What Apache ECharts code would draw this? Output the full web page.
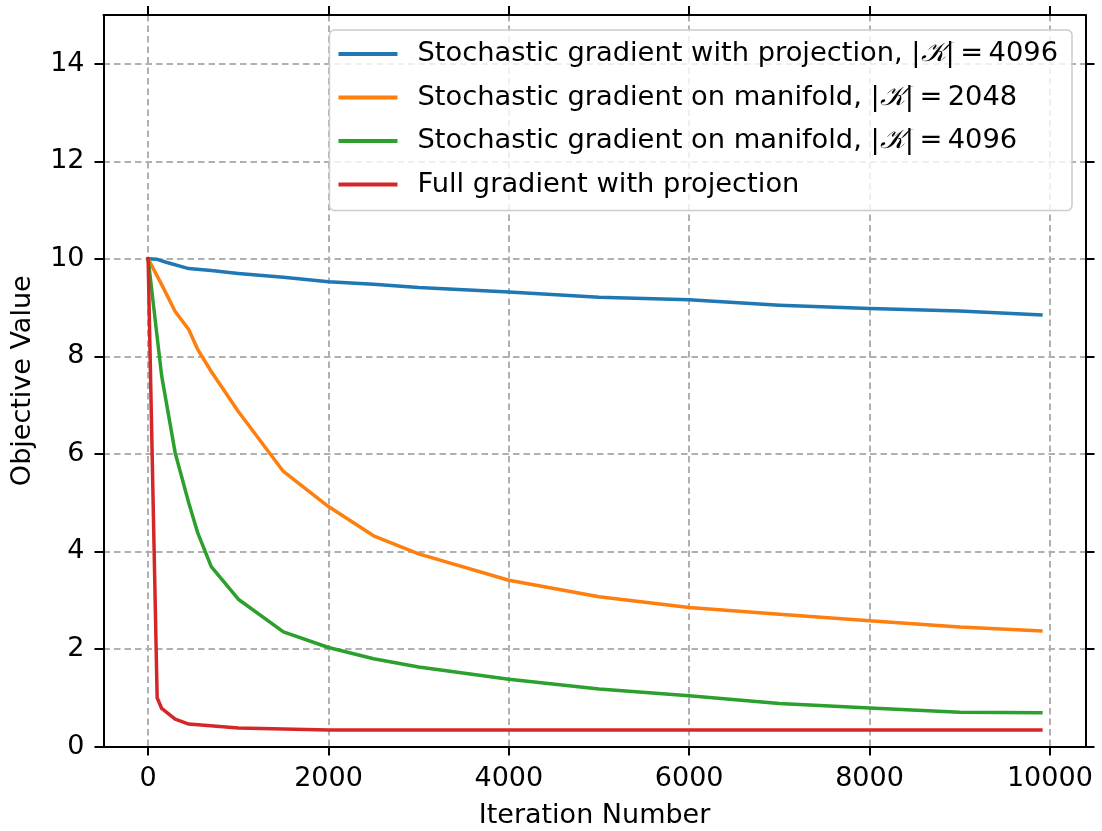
<!DOCTYPE html>
<html>
<head>
<meta charset="utf-8">
<script src="https://cdn.jsdelivr.net/npm/echarts@6/dist/echarts.min.js"></script>
<style>
  html, body { margin: 0; padding: 0; background: #ffffff; }
  #chart { width: 1102px; height: 831px; }
</style>
</head>
<body>
<div id="chart"></div>
<script>
// Iterations at which each run was logged, with the objective value there
const itersProjSG = [0, 100, 200, 450, 700, 1000, 1500, 2000, 2500, 3000, 4000, 5000, 6000, 7000, 8000, 9000, 9900];
const valsProjSG  = [10.0, 9.99, 9.93, 9.80, 9.76, 9.70, 9.62, 9.53, 9.48, 9.41, 9.32, 9.21, 9.16, 9.05, 8.98, 8.93, 8.85];

const itersMan2048 = [0, 150, 300, 450, 550, 700, 1000, 1500, 2000, 2500, 3000, 4000, 5000, 6000, 7000, 8000, 9000, 9900];
const valsMan2048  = [10.0, 9.47, 8.92, 8.55, 8.14, 7.69, 6.87, 5.64, 4.92, 4.32, 3.95, 3.41, 3.07, 2.85, 2.71, 2.58, 2.45, 2.37];

const itersMan4096 = [0, 150, 300, 450, 550, 700, 1000, 1500, 2000, 2500, 3000, 4000, 5000, 6000, 7000, 8000, 9000, 9900];
const valsMan4096  = [10.0, 7.60, 6.02, 5.00, 4.38, 3.69, 3.02, 2.35, 2.03, 1.80, 1.63, 1.38, 1.18, 1.04, 0.88, 0.79, 0.70, 0.69];

const itersFullGD = [0, 100, 150, 300, 450, 1000, 2000, 3000, 4000, 5000, 6000, 7000, 8000, 9000, 9900];
const valsFullGD  = [10.0, 1.00, 0.78, 0.56, 0.46, 0.38, 0.34, 0.34, 0.34, 0.34, 0.34, 0.34, 0.34, 0.34, 0.34];

// Legend entries; {k|...} marks the script K drawn in the rich style below
const seriesNames = [
  'Stochastic gradient with projection, |{k|𝒦}|\u2009=\u20094096',
  'Stochastic gradient on manifold, |{k|𝒦}|\u2009=\u20092048',
  'Stochastic gradient on manifold, |{k|𝒦}|\u2009=\u20094096',
  'Full gradient with projection'
];
const seriesColors = ['#1f77b4', '#ff7f0e', '#2ca02c', '#d62728'];

const xTicks = [0, 2000, 4000, 6000, 8000, 10000];
const yTicks = [0, 2, 4, 6, 8, 10, 12, 14];
const xRange = [-495, 10395];
const yRange = [0, 15];

function pairs(xs, ys) { return xs.map((x, i) => [x, ys[i]]); }

const FONT = 'DejaVu Sans';
const gridLine = { show: true, lineStyle: { color: '#b0b0b0', width: 2, type: [6.5, 4] } };
const spine = { show: true, onZero: false, lineStyle: { color: '#000', width: 2 } };
const tickStyle = { show: true, inside: false, length: 9, lineStyle: { color: '#000', width: 2 } };

const chart = echarts.init(document.getElementById('chart'), null, { renderer: 'canvas' });

chart.setOption({
  animation: false,
  backgroundColor: '#ffffff',
  textStyle: { fontFamily: FONT },
  grid: {
    left: 103.5, right: 16.5, top: 15, bottom: 84.5,
    containLabel: false, outerBoundsMode: 'none'
  },
  legend: {
    orient: 'vertical',
    right: 30,
    top: 30,
    padding: [9, 14, 11, 9],
    itemGap: 13.5,
    itemWidth: 59,
    itemHeight: 4,
    icon: 'rect',
    backgroundColor: 'rgba(255,255,255,0.8)',
    borderColor: '#cccccc',
    borderWidth: 1.5,
    borderRadius: 5,
    data: seriesNames.map(n => ({ name: n })),
    textStyle: {
      fontFamily: FONT,
      fontSize: 27.3,
      color: '#000',
      lineHeight: 30,
      padding: [0, 0, 0, 15],
      rich: {
        k: { fontFamily: 'DejaVu Serif', fontStyle: 'italic', fontSize: 27.3, color: '#000', lineHeight: 30 }
      }
    }
  },
  xAxis: [
    {
      type: 'value', position: 'bottom', min: xRange[0], max: xRange[1],
      axisLine: spine,
      axisTick: Object.assign({ customValues: xTicks }, tickStyle),
      axisLabel: {
        customValues: xTicks, fontFamily: FONT, fontSize: 27, color: '#000', margin: 19,
        formatter: v => String(v)
      },
      splitLine: gridLine,
      name: 'Iteration Number', nameLocation: 'middle', nameGap: 56,
      nameTextStyle: { fontFamily: FONT, fontSize: 27, color: '#000' }
    },
    {
      type: 'value', position: 'top', min: xRange[0], max: xRange[1],
      axisLine: spine,
      axisTick: Object.assign({ customValues: xTicks }, tickStyle),
      axisLabel: { show: false },
      splitLine: { show: false }
    }
  ],
  yAxis: [
    {
      type: 'value', position: 'left', min: yRange[0], max: yRange[1],
      axisLine: spine,
      axisTick: Object.assign({ customValues: yTicks }, tickStyle),
      axisLabel: { customValues: yTicks, fontFamily: FONT, fontSize: 27, color: '#000', margin: 19 },
      splitLine: gridLine,
      name: 'Objective Value', nameLocation: 'middle', nameGap: 67,
      nameTextStyle: { fontFamily: FONT, fontSize: 27, color: '#000' }
    },
    {
      type: 'value', position: 'right', min: yRange[0], max: yRange[1],
      axisLine: spine,
      axisTick: Object.assign({ customValues: yTicks }, tickStyle),
      axisLabel: { show: false },
      splitLine: { show: false }
    }
  ],
  series: [
    [itersProjSG, valsProjSG],
    [itersMan2048, valsMan2048],
    [itersMan4096, valsMan4096],
    [itersFullGD, valsFullGD]
  ].map((d, i) => ({
    type: 'line',
    name: seriesNames[i],
    data: pairs(d[0], d[1]),
    xAxisIndex: 0,
    yAxisIndex: 0,
    symbol: 'none',
    color: seriesColors[i],
    lineStyle: { color: seriesColors[i], width: 3.5, cap: 'square', join: 'round' },
    z: 3 + i
  }))
});
</script>
</body>
</html>
